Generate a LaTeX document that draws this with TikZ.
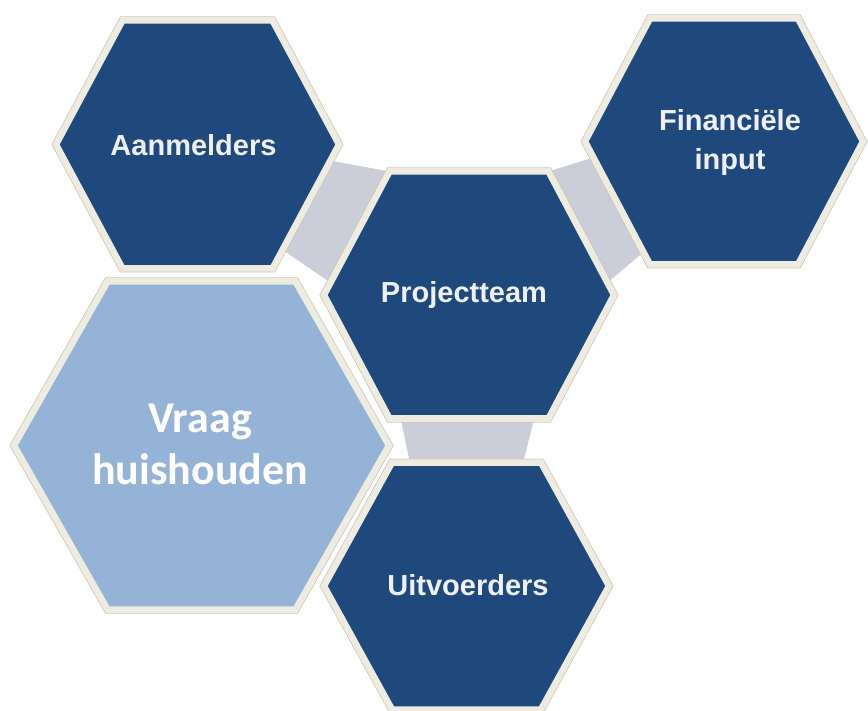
\documentclass[tikz,border=0pt]{standalone}
\usepackage{fontspec}
\setmainfont{Liberation Sans}
\newfontfamily\vraagfont{Carlito}
\usetikzlibrary{calc}
\definecolor{hexdark}{HTML}{1F497D}
\definecolor{hexlight}{HTML}{95B3D7}
\definecolor{hexrim}{HTML}{EEECE1}
\definecolor{hexrimline}{HTML}{C9C6B8}
\definecolor{linkgrey}{HTML}{CBCED8}
\definecolor{lbltext}{HTML}{EEF0F4}
\tikzset{
  hexouter/.style={draw=hexrimline, line width=8pt, line join=miter},
  hexdarkstyle/.style={fill=hexdark, draw=hexrim, line width=6.5pt, line join=miter},
  hexlightstyle/.style={fill=hexlight, draw=hexrim, line width=6.5pt, line join=miter},
  linkband/.style={fill=linkgrey},
  lbl/.style={text=lbltext, inner sep=0pt, font=\bfseries\fontsize{29}{39}\selectfont},
  vlbl/.style={text=white, inner sep=0pt, font=\vraagfont\bfseries\fontsize{44}{52}\selectfont}
}
\newcommand\hexdef[6]{%
  \coordinate (#1-c) at (#2,#3);
  \coordinate (#1-l) at (#2-#4,#3);
  \coordinate (#1-tl) at (#2-#4+#6,#3-#5);
  \coordinate (#1-tr) at (#2+#4-#6,#3-#5);
  \coordinate (#1-r) at (#2+#4,#3);
  \coordinate (#1-br) at (#2+#4-#6,#3+#5);
  \coordinate (#1-bl) at (#2-#4+#6,#3+#5);
}
\newcommand\hexdraw[2]{%
  \draw[hexouter] (#1-l)--(#1-tl)--(#1-tr)--(#1-r)--(#1-br)--(#1-bl)--cycle;
  \filldraw[#2] (#1-l)--(#1-tl)--(#1-tr)--(#1-r)--(#1-br)--(#1-bl)--cycle;
}
\begin{document}
\begin{tikzpicture}[x=1pt,y=-1pt]
\useasboundingbox (0,0) rectangle (868,711);
% hexagon geometry (centre x, centre y, half width, half height, corner inset)
\hexdef{A}{197.5}{144.5}{141.5}{124}{66.5}
\hexdef{P}{469}{295}{145}{123.5}{65.5}
\hexdef{F}{724}{141.5}{139}{123}{65}
\hexdef{V}{201.5}{445.5}{187.5}{164}{93.5}
\hexdef{U}{466.5}{586}{142.5}{123.5}{68}
% connector bands
\fill[linkband] ($(A-r)!0.13!(A-br)$) -- (P-tl) -- ($(P-tl)!0.9!(P-l)$) -- ($(A-r)!0.85!(A-br)$) -- cycle;
\fill[linkband] (P-tr) -- ($(F-l)!0.13!(F-bl)$) -- ($(F-l)!0.9!(F-bl)$) -- ($(P-tr)!0.9!(P-r)$) -- cycle;
\fill[linkband] ($(P-bl)!0.07!(P-br)$) -- ($(P-bl)!0.91!(P-br)$) -- ($(U-tl)!0.88!(U-tr)$) -- ($(U-tl)!0.12!(U-tr)$) -- cycle;
% hexagons
\hexdraw{A}{hexdarkstyle}
\hexdraw{F}{hexdarkstyle}
\hexdraw{P}{hexdarkstyle}
\hexdraw{U}{hexdarkstyle}
\hexdraw{V}{hexlightstyle}
% labels
\node[lbl] (tA) at (193.5,145) {Aanmelders};
\node[lbl] (tP) at (464,295.5) {Projectteam};
\node[lbl, align=center] (tF) at (730,143) {Financiële\\input};
\node[lbl] (tU) at (468,585) {Uitvoerders};
\node[vlbl, align=center] (tV) at (200,444.5) {Vraag\\huishouden};
\end{tikzpicture}
\end{document}
